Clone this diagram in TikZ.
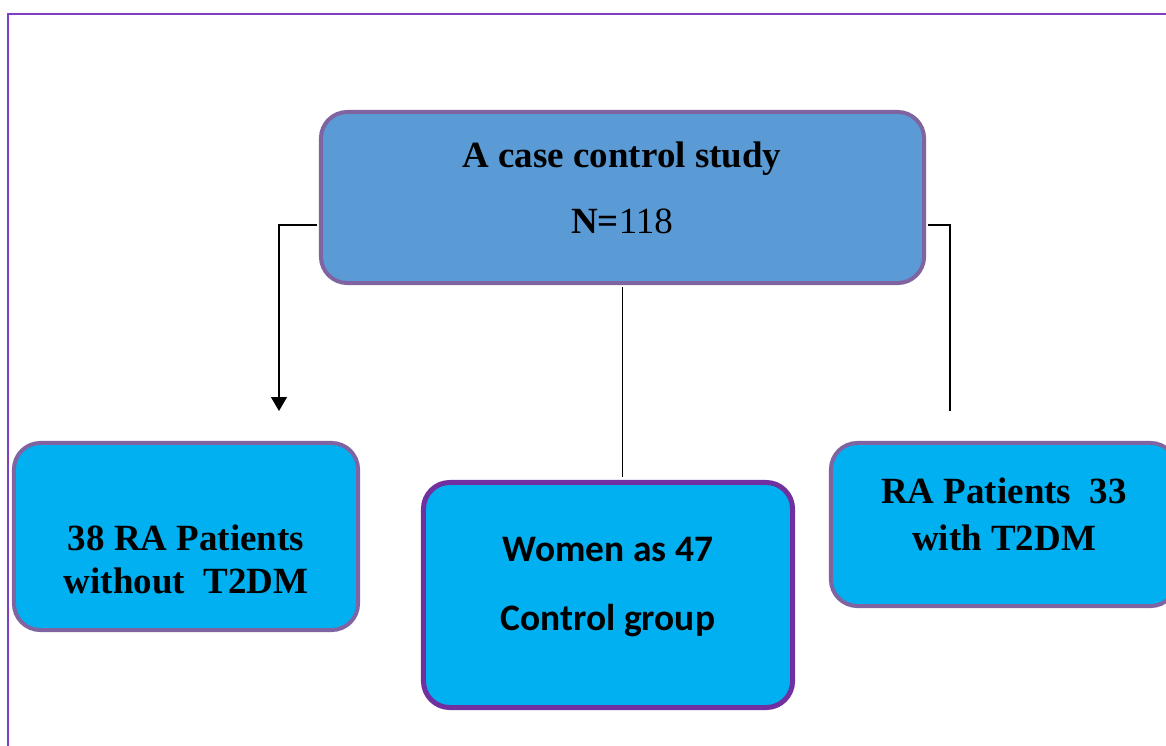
\documentclass[tikz,border=0pt]{standalone}
\usepackage{fontspec}
\setmainfont{Liberation Serif}
\newfontfamily\calibrifont{Carlito}
\usepackage{tikz}
\usetikzlibrary{arrows.meta}
\definecolor{FrameLine}{HTML}{7F3FBF}
\definecolor{BoxLine}{HTML}{8064A2}
\definecolor{CtrlLine}{HTML}{7030A0}
\definecolor{TopFill}{HTML}{5B9BD5}
\definecolor{SubFill}{HTML}{00B0F0}

\begin{document}
\begin{tikzpicture}
    [
        x=0.025cm, y=-0.025cm,
        box style/.style={draw=BoxLine, line width=0.1cm, rounded corners=0.66cm, inner sep=0pt},
        serif text/.style={font=\fontsize{26.3}{30}\selectfont\bfseries, anchor=base, inner sep=0pt},
        sans text/.style={font=\fontsize{26.6}{30}\selectfont\calibrifont\bfseries, anchor=base, inner sep=0pt},
        link style/.style={line width=0.9pt, black}
    ]
    \clip (0,0) rectangle (1166,745);
    \fill[white] (0,0) rectangle (1166,745);
    \draw[FrameLine, line width=0.05cm] (8,14) rectangle (1250,800);
    % boxes
    \node[box style, fill=TopFill, minimum width=15.075cm, minimum height=4.275cm] (study) at (622.5,197.5) {};
    \node[box style, fill=SubFill, minimum width=8.6cm, minimum height=4.675cm] (without) at (186,536.5) {};
    \node[box style, fill=SubFill, draw=CtrlLine, line width=0.125cm, minimum width=9.225cm, minimum height=5.625cm] (control) at (608,595) {};
    \node[box style, fill=SubFill, minimum width=8.65cm, minimum height=4.075cm] (with) at (1004,524.5) {};
    % texts
    \node[serif text] (studytitle) at (622,167) {A case control study};
    \node[serif text] (studyn) at (622,233) {N=\textmd{118}};
    \node[serif text] (withouta) at (186,550) {38 RA Patients};
    \node[serif text] (withoutb) at (186,593) {without~~T2DM};
    \node[sans text] (controla) at (608,561) {Women as 47};
    \node[sans text] (controlb) at (608,630) {Control group};
    \node[serif text] (witha) at (1004,503) {RA Patients~~33};
    \node[serif text] (withb) at (1004,550) {with T2DM};
    % connectors
    \coordinate (leftend) at (279,411);
    \coordinate (rightend) at (950,411);
    \draw[link style, shorten <=0.05cm, -{Triangle[width=0.4cm,length=0.35cm]}] (study.west |- 0,225) -| (leftend);
    \draw[link style, shorten <=0.05cm] (study.east |- 0,225) -| (rightend);
    \draw[link style, line width=0.6pt, shorten <=0.05cm, shorten >=0.0625cm] (study.south) -- (study.south |- control.north);
\end{tikzpicture}
\end{document}
